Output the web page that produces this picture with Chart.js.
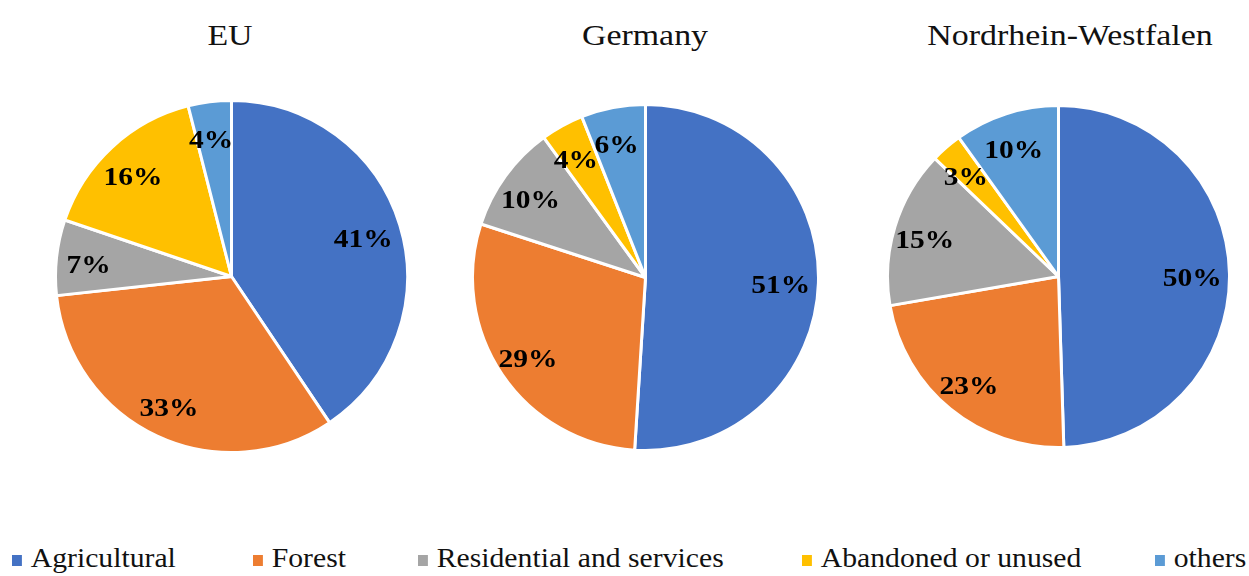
<!DOCTYPE html>
<html>
<head>
<meta charset="utf-8">
<script src="https://cdn.jsdelivr.net/npm/chart.js@4/dist/chart.umd.min.js"></script>
<style>
  html, body { margin: 0; padding: 0; background: #fff; }
  #page { position: relative; width: 1249px; height: 576px; overflow: hidden; font-family: 'Liberation Serif', 'Times New Roman', serif; color: #111; }
  .pie { position: absolute; }
  .title { position: absolute; top: 18px; font-size: 30px; white-space: nowrap; transform: translateX(-50%) scaleX(1.13); }
  .legend-item { position: absolute; top: 543px; font-size: 27px; white-space: nowrap; transform-origin: left center; transform: scaleX(1.1); }
  .legend-item i { display: inline-block; width: 9px; height: 11px; margin-right: 8px; vertical-align: 1px; }
</style>
</head>
<body>
<div id="page">
  <canvas id="pieEU" class="pie"></canvas>
  <canvas id="pieDE" class="pie"></canvas>
  <canvas id="pieNRW" class="pie"></canvas>
</div>
<script>
const categories = ['Agricultural', 'Forest', 'Residential and services', 'Abandoned or unused', 'others'];
const regionTitles = ['EU', 'Germany', 'Nordrhein-Westfalen'];
const euValues = [41, 33, 7, 16, 4];
const germanyValues = [51, 29, 10, 4, 6];
const nrwValues = [50, 23, 15, 3, 10];

const palette = ['#4472c4', '#ed7d31', '#a5a5a5', '#ffc000', '#5b9bd5'];

// where each pie sits on the page: centre x, centre y, box size
const pieLayout = [
  { id: 'pieEU', cx: 231, cy: 276, size: 355 },
  { id: 'pieDE', cx: 645, cy: 277, size: 349 },
  { id: 'pieNRW', cx: 1058, cy: 276, size: 345 }
];
const titleCentres = [230, 645, 1070];
const legendLefts = [12, 253, 418, 802, 1155];

const labelFont = 'bold 25px "Liberation Serif"';

// percent labels drawn inside each slice, slightly stretched like the source
const sliceLabels = {
  id: 'sliceLabels',
  afterDatasetsDraw(chart) {
    const ctx = chart.ctx;
    const meta = chart.getDatasetMeta(0);
    const values = chart.data.datasets[0].data;
    ctx.save();
    ctx.font = labelFont;
    ctx.fillStyle = '#000';
    ctx.textAlign = 'center';
    ctx.textBaseline = 'middle';
    meta.data.forEach((arc, i) => {
      const p = arc.getProps(['x', 'y', 'startAngle', 'endAngle', 'outerRadius'], true);
      const mid = (p.startAngle + p.endAngle) / 2;
      const r = p.outerRadius * 0.8;
      const x = p.x + Math.cos(mid) * r - 3;
      const y = p.y + Math.sin(mid) * r + 5;
      ctx.save();
      ctx.translate(x, y);
      ctx.scale(1.18, 1);
      ctx.fillText(values[i] + '%', 0, 0);
      ctx.restore();
    });
    ctx.restore();
  }
};

const page = document.getElementById('page');
const seriesList = [euValues, germanyValues, nrwValues];

function build() {
  pieLayout.forEach((lay, idx) => {
    const canvas = document.getElementById(lay.id);
    canvas.width = lay.size;
    canvas.height = lay.size;
    canvas.style.left = (lay.cx - lay.size / 2) + 'px';
    canvas.style.top = (lay.cy - lay.size / 2) + 'px';
    new Chart(canvas, {
      type: 'pie',
      data: {
        labels: categories,
        datasets: [{
          data: seriesList[idx],
          backgroundColor: palette,
          borderColor: '#ffffff',
          borderWidth: 3
        }]
      },
      options: {
        responsive: false,
        animation: false,
        layout: { padding: 0 },
        plugins: { legend: { display: false }, tooltip: { enabled: false } }
      },
      plugins: [sliceLabels]
    });

    const t = document.createElement('div');
    t.className = 'title';
    t.textContent = regionTitles[idx];
    t.style.left = titleCentres[idx] + 'px';
    page.appendChild(t);
  });

  categories.forEach((name, i) => {
    const item = document.createElement('div');
    item.className = 'legend-item';
    item.style.left = legendLefts[i] + 'px';
    const sw = document.createElement('i');
    sw.style.background = palette[i];
    item.appendChild(sw);
    item.appendChild(document.createTextNode(name));
    page.appendChild(item);
  });
}

// make sure the serif face is ready before the canvas text is drawn
document.fonts.load(labelFont).then(build, build);
</script>
</body>
</html>
